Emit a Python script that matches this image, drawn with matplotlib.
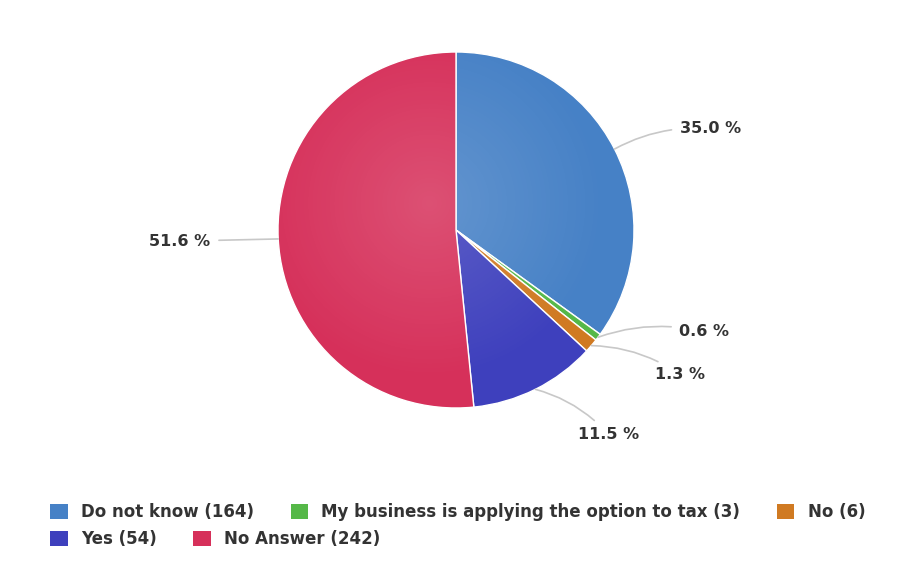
import numpy as np
import matplotlib
matplotlib.use("Agg")
import matplotlib.pyplot as plt
from matplotlib.patches import Patch

# Data
categories = [
    "Do not know",
    "My business is applying the option to tax",
    "No",
    "Yes",
    "No Answer",
]
counts = [164, 3, 6, 54, 242]
colors = ["#4681c6", "#55b848", "#d07a22", "#3e40bd", "#d6305a"]
# small label nudges (data units) where Highcharts pushed labels around
label_dy = [0.0, 0.18, 0.0, -0.03, 0.0]
label_dx = [0.0, 0.0, 0.0, -0.08, 0.0]

TEXT = "#333333"

fig = plt.figure(figsize=(9.02, 5.62), dpi=100)
fig.patch.set_facecolor("white")

# pie box: centre at (456, 230) px, radius 178 px
W, H = 902, 562
cx, cy, r = 456, 230, 178
ax = fig.add_axes([(cx - r) / W, (H - cy - r) / H, 2 * r / W, 2 * r / H])

wedges, _ = ax.pie(
    counts,
    colors=colors,
    startangle=90,
    counterclock=False,
    radius=1.0,
    wedgeprops=dict(edgecolor="white", linewidth=1.0),
)
ax.set_aspect("equal")
ax.axis("off")

# soft highlight, like the original's radial gradient
yy, xx = np.mgrid[-1:1:400j, -1:1:400j]
dist = np.hypot(xx + 0.15, yy - 0.15)
shade = np.zeros((400, 400, 4))
shade[..., :3] = 1.0
shade[..., 3] = np.clip(0.16 * (1 - dist), 0, 0.16)
img = ax.imshow(shade, extent=(-1, 1, -1, 1), origin="lower", zorder=3)
img.set_clip_path(plt.Circle((0, 0), 1.0, transform=ax.transData))
ax.set_xlim(-1, 1)
ax.set_ylim(-1, 1)

total = sum(counts)
R_LABEL = 1.38
for w, n, dy, dx in zip(wedges, counts, label_dy, label_dx):
    mid = np.deg2rad((w.theta1 + w.theta2) / 2)
    ex, ey = np.cos(mid), np.sin(mid)
    ly = 1.25 * np.sin(mid) + dy
    side = 1 if ex >= 0 else -1
    lx = side * np.sqrt(R_LABEL ** 2 - ly ** 2) + dx
    pct = 100 * n / total
    ax.annotate(
        f"{pct:.1f} %",
        xy=(ex, ey),
        xytext=(lx, ly),
        ha="left" if side > 0 else "right",
        va="center",
        fontsize=11.5,
        fontweight="bold",
        color=TEXT,
        annotation_clip=False,
        arrowprops=dict(
            arrowstyle="-",
            color="#c8c8c8",
            lw=1.2,
            shrinkA=4,
            shrinkB=0,
            connectionstyle="arc3,rad=0.15" if side > 0 else "arc3,rad=0.0",
        ),
    )

handles = [Patch(facecolor=c, edgecolor="none") for c in colors]
labels = [f"{c} ({n})" for c, n in zip(categories, counts)]

leg_kw = dict(
    frameon=False,
    loc="upper left",
    fontsize=12,
    handlelength=1.05,
    handleheight=1.05,
    handletextpad=0.8,
    columnspacing=2.2,
    borderaxespad=0,
    borderpad=0,
)
leg1 = fig.legend(handles[:3], labels[:3], ncol=3,
                  bbox_to_anchor=(50 / W, 1 - 503 / H), **leg_kw)
leg2 = fig.legend(handles[3:], labels[3:], ncol=2,
                  bbox_to_anchor=(50 / W, 1 - 530 / H), **leg_kw)
for leg in (leg1, leg2):
    for t in leg.get_texts():
        t.set_color(TEXT)
        t.set_fontweight("bold")

fig.savefig("out.png", dpi=100, facecolor="white")
